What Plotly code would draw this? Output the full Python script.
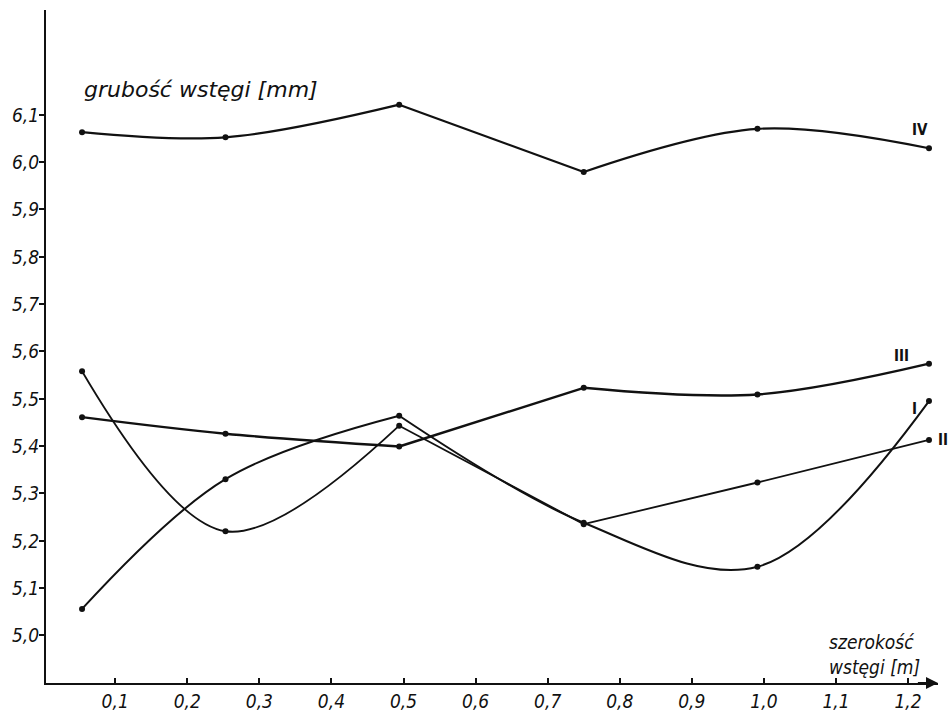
import plotly.graph_objects as go

# ---- data ----
width_m = [0.054, 0.253, 0.494, 0.75, 0.991, 1.229]

series_I = [5.056, 5.330, 5.464, 5.238, 5.145, 5.495]
series_II = [5.558, 5.220, 5.443, 5.235, 5.323, 5.413]
series_III = [5.461, 5.426, 5.399, 5.523, 5.509, 5.574]
series_IV = [6.063, 6.052, 6.121, 5.979, 6.070, 6.029]

series_labels = ["I", "II", "III", "IV"]

y_tick_vals = [5.0, 5.1, 5.2, 5.3, 5.4, 5.5, 5.6, 5.7, 5.8, 5.9, 6.0, 6.1]
y_tick_text = ["5,0", "5,1", "5,2", "5,3", "5,4", "5,5", "5,6", "5,7", "5,8", "5,9", "6,0", "6,1"]
x_tick_vals = [0.1, 0.2, 0.3, 0.4, 0.5, 0.6, 0.7, 0.8, 0.9, 1.0, 1.1, 1.2]
x_tick_text = ["0,1", "0,2", "0,3", "0,4", "0,5", "0,6", "0,7", "0,8", "0,9", "1,0", "1,1", "1,2"]

# pen strokes: index ranges of points drawn as one smooth stroke
strokes_I = [(0, 2), (2, 5)]
strokes_II = [(0, 2), (2, 3), (3, 5)]
strokes_III = [(0, 2), (2, 3), (3, 5)]
strokes_IV = [(0, 2), (2, 3), (3, 5)]

FONT = "DejaVu Sans Condensed, DejaVu Sans, sans-serif"
FONT_WIDE = "DejaVu Sans, sans-serif"
INK = "#111111"

fig = go.Figure()

all_series = [
    (series_I, strokes_I, 2.0),
    (series_II, strokes_II, 1.8),
    (series_III, strokes_III, 2.4),
    (series_IV, strokes_IV, 2.2),
]

for vals, strokes, lw in all_series:
    for a, b in strokes:
        fig.add_trace(go.Scatter(
            x=width_m[a:b + 1], y=vals[a:b + 1],
            mode="lines",
            line=dict(color=INK, width=lw, shape="spline", smoothing=1.0),
            hoverinfo="skip", showlegend=False,
        ))
    fig.add_trace(go.Scatter(
        x=width_m, y=vals, mode="markers",
        marker=dict(color=INK, size=6),
        showlegend=False,
    ))

# series labels near the last point of each curve
label_offsets = [(-14, -8), (14, 0), (-27, 8), (-9, 18)]
for vals, lab, (dx, dy) in zip([series_I, series_II, series_III, series_IV], series_labels, label_offsets):
    fig.add_annotation(
        x=width_m[-1], y=vals[-1], xref="x", yref="y",
        text="<b>" + lab + "</b>", showarrow=False, xshift=dx, yshift=dy,
        font=dict(family=FONT, size=15, color=INK),
    )

# y tick labels placed close to the axis (hand-lettered look)
for v, t in zip(y_tick_vals, y_tick_text):
    fig.add_annotation(
        x=0, y=v, xref="paper", yref="y", text=t, showarrow=False,
        xanchor="right", yanchor="middle", xshift=-5,
        font=dict(family=FONT, size=19, color=INK, style="italic"),
    )

x_range = [0.004, 1.2415]
y_range = [4.8995, 6.321]

# axis titles
fig.add_annotation(
    x=0.040, y=0.882, xref="paper", yref="paper", text="grubość wstęgi [mm]",
    showarrow=False, xanchor="left", yanchor="middle",
    font=dict(family=FONT_WIDE, size=22, color=INK, style="italic"),
)
fig.add_annotation(
    x=0.876, y=0.042, xref="paper", yref="paper",
    text="szerokość<br>wstęgi [m]", align="left",
    showarrow=False, xanchor="left", yanchor="middle",
    font=dict(family=FONT, size=19, color=INK, style="italic"),
)

# x-axis arrow
fig.add_annotation(
    x=x_range[1], y=y_range[0], xref="x", yref="y",
    ax=x_range[1] - 0.03, ay=y_range[0], axref="x", ayref="y",
    showarrow=True, arrowhead=2, arrowsize=1.2, arrowwidth=2, arrowcolor=INK, text="",
)

fig.update_layout(
    width=948, height=722,
    margin=dict(l=46, r=10, t=10, b=33),
    paper_bgcolor="white", plot_bgcolor="white",
    showlegend=False,
    xaxis=dict(
        range=x_range, tickvals=x_tick_vals, ticktext=x_tick_text,
        showgrid=False, zeroline=False, showline=True, linecolor=INK, linewidth=2,
        ticks="inside", ticklen=5, tickwidth=1.5, tickcolor=INK,
        tickfont=dict(family=FONT, size=19, color=INK, style="italic"),
    ),
    yaxis=dict(
        range=y_range, tickvals=y_tick_vals, showticklabels=False,
        showgrid=False, zeroline=False, showline=True, linecolor=INK, linewidth=2,
        ticks="outside", ticklen=5, tickwidth=1.5, tickcolor=INK,
    ),
)

fig.write_html("out.html")
